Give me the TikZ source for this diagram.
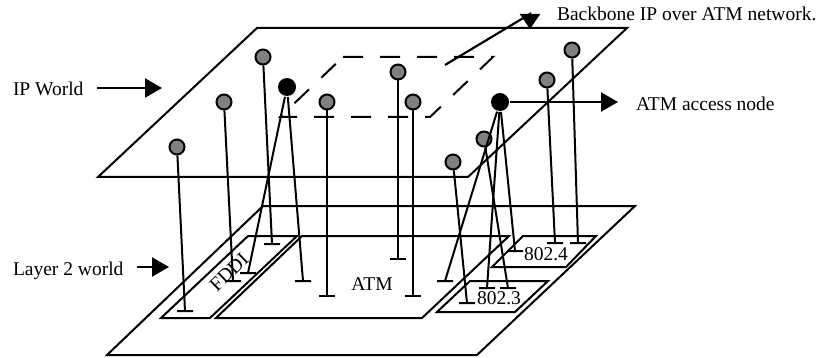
\documentclass[tikz,border=0pt]{standalone}
\usepackage{fontspec}
\setmainfont{Liberation Serif}
\usetikzlibrary{arrows.meta}

\begin{document}
\begin{tikzpicture}[
    x=1pt, y=-1pt,
    line width=2pt,
    >={Triangle[length=17pt,width=19pt]},
    host/.style={
        circle,
        draw,
        fill=gray,
        inner sep=0pt,
        minimum size=15pt
    },
    access/.style={
        circle,
        fill=black,
        inner sep=0pt,
        minimum size=18pt
    },
    lbl/.style={
        font=\fontsize{19.5}{22}\selectfont,
        inner sep=0pt
    },
    arr/.style={
        ->,
        line width=2.2pt
    },
    backbone/.style={
        dash pattern=on 20pt off 17pt
    }
]
    \useasboundingbox (0,0) rectangle (821,358);

    % planes
    \draw (98,177) -- (468,177) -- (627,28) -- (257,28) -- cycle;
    \draw (107,355) -- (477,355) -- (635,206) -- (263,206) -- cycle;
    \draw[backbone] (343,57) -- (493,57) -- (430,117) -- (280,117) -- cycle;

    \draw (161,318) -- (210,318) -- (297,236) -- (248,236) -- cycle;
    \draw (216,318) -- (422,318) -- (509,236) -- (302,236) -- cycle;
    \draw (437,312) -- (515,312) -- (548,281) -- (470,281) -- cycle;
    \draw (492,267) -- (566,267) -- (596,236) -- (523,236) -- cycle;

    \node[lbl, rotate=44] (fddi) at (229,272) {FDDI};
    \node[lbl] (atm) at (372,284) {ATM};
    \node[lbl] (eth) at (499,298) {802.3};
    \node[lbl] (tok) at (546,254) {802.4};

    % hosts and access nodes
    \node[host] (g1) at (177,147) {};
    \node[host] (g2) at (224,102) {};
    \node[host] (g3) at (263,57) {};
    \node[host] (g4) at (327,102) {};
    \node[host] (g5) at (398,72) {};
    \node[host] (g6) at (413,102) {};
    \node[host] (g7) at (572,50) {};
    \node[host] (g8) at (547,80) {};
    \node[host] (g9) at (484,139) {};
    \node[host] (g10) at (453,162) {};
    \node[access] (b1) at (287,87) {};
    \node[access] (b2) at (500,102) {};

    \coordinate (t1) at (185,311);
    \coordinate (t2) at (233,281);
    \coordinate (t3) at (272,244);
    \coordinate (t4) at (248,273);
    \coordinate (t5) at (303,281);
    \coordinate (t6) at (327,296);
    \coordinate (t7) at (398,259);
    \coordinate (t8) at (413,296);
    \coordinate (t9) at (445,281);
    \coordinate (t10) at (467,303);
    \coordinate (t11) at (487,288);
    \coordinate (t12) at (508,288);
    \coordinate (t13) at (515,251);
    \coordinate (t14) at (555,243);
    \coordinate (t15) at (578,243);

    \draw (g1) -- (t1) +(-8,0) -- +(8,0);
    \draw (g2) -- (t2) +(-8,0) -- +(8,0);
    \draw (g3) -- (t3) +(-8,0) -- +(8,0);
    \draw (b1) -- (t4) +(-8,0) -- +(8,0);
    \draw (b1) -- (t5) +(-8,0) -- +(8,0);
    \draw (g4) -- (t6) +(-8,0) -- +(8,0);
    \draw (g5) -- (t7) +(-8,0) -- +(8,0);
    \draw (g6) -- (t8) +(-8,0) -- +(8,0);
    \draw (b2) -- (t9) +(-8,0) -- +(8,0);
    \draw (g10) -- (t10) +(-8,0) -- +(8,0);
    \draw (b2) -- (t11) +(-8,0) -- +(8,0);
    \draw (g9) -- (t12) +(-8,0) -- +(8,0);
    \draw (b2) -- (t13) +(-8,0) -- +(8,0);
    \draw (g8) -- (t14) +(-8,0) -- +(8,0);
    \draw (g7) -- (t15) +(-8,0) -- +(8,0);

    % labels with arrows
    \node[lbl, anchor=base west] (ipw) at (12,96) {IP World};
    \node[lbl, anchor=base west] (l2w) at (12,275) {Layer 2 world};
    \node[lbl, anchor=base west] (bbn) at (556,21) {Backbone IP over ATM network.};
    \node[lbl, anchor=base west] (acc) at (635,111) {ATM access node};

    \coordinate (ipwtip) at (162,88);
    \coordinate (l2wtip) at (169,267);
    \coordinate (acctip) at (618,102);
    \coordinate (bbnfoot) at (445,65);
    \coordinate (bbnbend) at (530,14);
    \coordinate (bbntip) at (530,29);

    \draw[arr] (97,88) -- (ipwtip);
    \draw[arr] (137,267) -- (l2wtip);
    \draw[arr] (b2) -- (acctip);
    \draw[arr, >={Triangle[length=15pt,width=20pt]}] (bbnfoot) -- (bbnbend) -- (bbntip);

\end{tikzpicture}
\end{document}
